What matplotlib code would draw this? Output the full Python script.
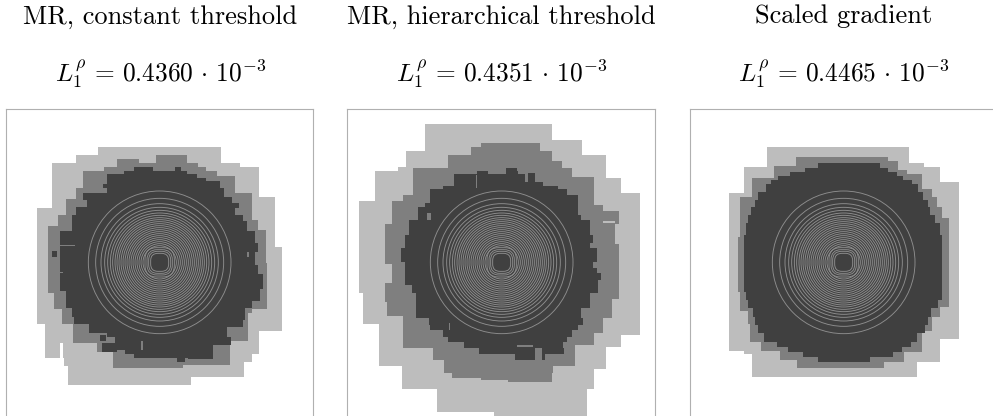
#!/usr/bin/env python3

import matplotlib
matplotlib.use('Agg')
import matplotlib.pyplot as plt
from matplotlib.patches import Circle, Rectangle, FancyBboxPatch

W, H = 993, 416
LIGHT, MID, DARK, RING = '#bdbdbd', '#7f7f7f', '#404040', '#8e8e8e'

titles = ['MR, constant threshold', 'MR, hierarchical threshold', 'Scaled gradient']
errors = ['0.4360', '0.4351', '0.4465']

# all refined regions are rows: y of the row top, left edge, right edge (last y closes the region)
# units are 1/3 of a pixel, y pointing down

# panel 1
light1_y = [142, 165, 188, 200, 292, 325, 440, 672, 693, 763, 774, 785, 797, 830, 855]
light1_l = [295, 227, 157, 157, 157, 111, 111, 134, 134, 134, 192, 192, 203, 203]
light1_r = [663, 663, 720, 778, 824, 824, 847, 847, 778, 755, 755, 732, 732, 572]
mid1_y = [165, 177, 188, 200, 212, 228, 263, 280, 298, 344, 360, 378, 390, 490, 578, 626, 640, 672, 722, 730, 755, 795, 803]
mid1_l = [468, 352, 352, 312, 248, 248, 227, 227, 197, 174, 174, 145, 145, 145, 162, 185, 185, 220, 220, 290, 340, 340]
mid1_r = [560, 560, 595, 618, 650, 705, 705, 755, 755, 755, 775, 775, 797, 802, 802, 755, 745, 745, 690, 690, 690, 550]
dark1_y = [200, 212, 222, 235, 242, 252, 265, 280, 290, 300, 310, 320, 325, 345, 362, 392, 430, 455, 495, 522, 567, 572, 603, 625, 650, 660, 672, 680, 700, 712, 735, 750, 762, 775]
dark1_l = [402, 373, 320, 320, 320, 310, 320, 250, 250, 262, 262, 227, 227, 215, 215, 180, 180, 180, 180, 180, 180, 197, 197, 215, 223, 223, 267, 267, 320, 345, 350, 375, 403]
dark1_r = [458, 560, 590, 618, 660, 660, 672, 672, 695, 695, 718, 718, 705, 730, 740, 765, 775, 765, 775, 788, 780, 780, 755, 735, 735, 730, 730, 680, 680, 692, 640, 638, 638]
patches1 = [
    (416, 177, 468, 188, LIGHT), (180, 730, 190, 774, 'white'),
    (525, 200, 543, 212, DARK), (530, 775, 555, 787, DARK), (565, 775, 638, 778, DARK),
    (403, 762, 440, 775, DARK), (157, 453, 170, 470, DARK),
    (300, 706, 318, 722, DARK), (305, 728, 350, 755, DARK),
    (180, 436, 225, 438, MID), (180, 497, 190, 499, MID), (180, 516, 190, 518, MID),
    (742, 455, 746, 470, MID), (424, 722, 428, 750, MID),
]

# panel 2
light2_y = [73, 120, 153, 165, 200, 212, 235, 280, 303, 580, 672, 706, 740, 798, 808, 867, 936, 951]
light2_l = [255, 255, 197, 197, 174, 105, 105, 105, 58, 70, 117, 117, 117, 186, 186, 290, 462]
light2_r = [635, 727, 727, 797, 797, 797, 843, 900, 900, 900, 900, 843, 797, 797, 762, 740, 740]
mid2_y = [130, 142, 153, 165, 183, 205, 230, 285, 303, 315, 332, 372, 433, 492, 550, 598, 607, 648, 655, 700, 735, 745, 780, 797, 820, 833, 840, 845]
mid2_l = [423, 393, 393, 323, 323, 220, 220, 190, 157, 157, 157, 134, 134, 157, 134, 134, 140, 190, 190, 190, 190, 278, 312, 312, 337, 423, 503]
mid2_r = [600, 600, 635, 635, 665, 695, 762, 762, 762, 790, 836, 825, 836, 836, 836, 815, 815, 815, 790, 762, 705, 705, 705, 640, 635, 635, 635]
dark2_y = [205, 212, 222, 245, 258, 268, 285, 310, 322, 345, 360, 405, 430, 445, 485, 505, 520, 540, 555, 578, 625, 655, 675, 690, 710, 725, 745, 762, 780]
dark2_l = [498, 410, 343, 343, 310, 270, 270, 255, 233, 233, 207, 195, 195, 183, 195, 195, 195, 195, 215, 227, 227, 267, 270, 310, 325, 373, 420, 525]
dark2_r = [532, 535, 555, 610, 655, 680, 715, 715, 715, 722, 750, 760, 750, 770, 760, 770, 782, 775, 775, 750, 722, 730, 713, 695, 680, 670, 672, 615]
patches2 = [
    (790, 362, 825, 368, LIGHT), (445, 212, 498, 222, MID),
    (565, 220, 585, 245, DARK), (408, 225, 412, 265, MID),
    (260, 340, 272, 360, MID), (326, 670, 330, 690, MID),
    (530, 735, 580, 741, MID), (585, 745, 605, 780, MID), (418, 745, 445, 762, DARK),
]

# panel 3
light3_y = [142, 188, 200, 247, 280, 717, 752, 763, 785, 831]
light3_l = [261, 261, 192, 192, 146, 146, 192, 215, 215]
light3_r = [687, 733, 780, 836, 836, 780, 780, 780, 710]
mid3_y = [170, 183, 198, 210, 222, 235, 268, 292, 322, 355, 410, 575, 622, 632, 650, 672, 692, 725, 752, 755, 780, 785, 805]
mid3_l = [348, 348, 283, 283, 283, 215, 215, 180, 180, 180, 175, 180, 180, 205, 205, 210, 210, 243, 300, 300, 352, 352]
mid3_r = [625, 653, 653, 680, 727, 727, 755, 770, 785, 808, 808, 808, 780, 780, 756, 756, 727, 727, 727, 672, 672, 612]
dark3_y = [190, 203, 215, 228, 240, 253, 275, 300, 322, 345, 370, 405, 560, 575, 600, 625, 650, 675, 700, 725, 740, 755, 770, 785]
dark3_l = [415, 375, 330, 295, 272, 258, 235, 225, 213, 203, 197, 192, 192, 197, 205, 220, 225, 233, 252, 290, 325, 370, 415]
dark3_r = [600, 625, 650, 670, 695, 715, 730, 745, 750, 765, 780, 785, 785, 785, 775, 752, 745, 735, 712, 692, 665, 640, 570]
patches3 = []

ring_radii = [214, 192, 176, 165, 156, 148, 141, 134, 128, 122, 116, 110, 104, 98, 92, 86, 80, 74, 68, 62, 56, 50]
inner_radii = [44, 38, 33, 27]

regions = [
    [(light1_y, light1_l, light1_r, LIGHT), (mid1_y, mid1_l, mid1_r, MID), (dark1_y, dark1_l, dark1_r, DARK)],
    [(light2_y, light2_l, light2_r, LIGHT), (mid2_y, mid2_l, mid2_r, MID), (dark2_y, dark2_l, dark2_r, DARK)],
    [(light3_y, light3_l, light3_r, LIGHT), (mid3_y, mid3_l, mid3_r, MID), (dark3_y, dark3_l, dark3_r, DARK)],
]
extras = [patches1, patches2, patches3]
x_left = [17, 22, 29]       # axes left edge, same units
px_left = [0, 340, 680]     # where those units start in the figure
centers = [479, 485, 491]
text_x = [160.5, 501.5, 844]

plt.rcParams['mathtext.fontset'] = 'cm'
fig = plt.figure(figsize=(W/100, H/100), dpi=100)

for i in range(3):
    ax = fig.add_axes([(px_left[i] + x_left[i]/3)/W, 1 - (100 + 951/3)/H, 923/3/W, 923/3/H])
    ax.set_xlim(x_left[i], x_left[i] + 923)
    ax.set_ylim(951, 28)
    ax.set_xticks([])
    ax.set_yticks([])
    for s in ax.spines.values():
        s.set_color('#b0b0b0')
        s.set_linewidth(0.8)

    for y, l, r, c in regions[i]:
        ax.fill_betweenx(y, l + l[-1:], r + r[-1:], step='post', color=c, lw=0)
    for x0, y0, x1, y1, c in extras[i]:
        ax.add_patch(Rectangle((x0, y0), x1 - x0, y1 - y0, color=c, lw=0))
    for r in ring_radii:
        ax.add_patch(Circle((centers[i], 487), r, fill=False, ec=RING, lw=0.65))
    # rings close to the centre are rounded squares
    for r in inner_radii:
        ax.add_patch(FancyBboxPatch((centers[i] - r, 487 - r), 2*r, 2*r, boxstyle='round,pad=0,rounding_size=%g' % (0.8*r),
                                    fill=False, ec=RING, lw=0.65))

    fig.text(text_x[i]/W, 1 - 23.5/H, titles[i], family='cmr10', fontsize=19, ha='center', va='baseline')
    fig.text(text_x[i]/W, 1 - 81.5/H, r'$L_1^\rho\,=\,%s\,\cdot\,10^{-3}$' % errors[i], fontsize=18.3, ha='center', va='baseline')

fig.savefig('out.png', dpi=100)
